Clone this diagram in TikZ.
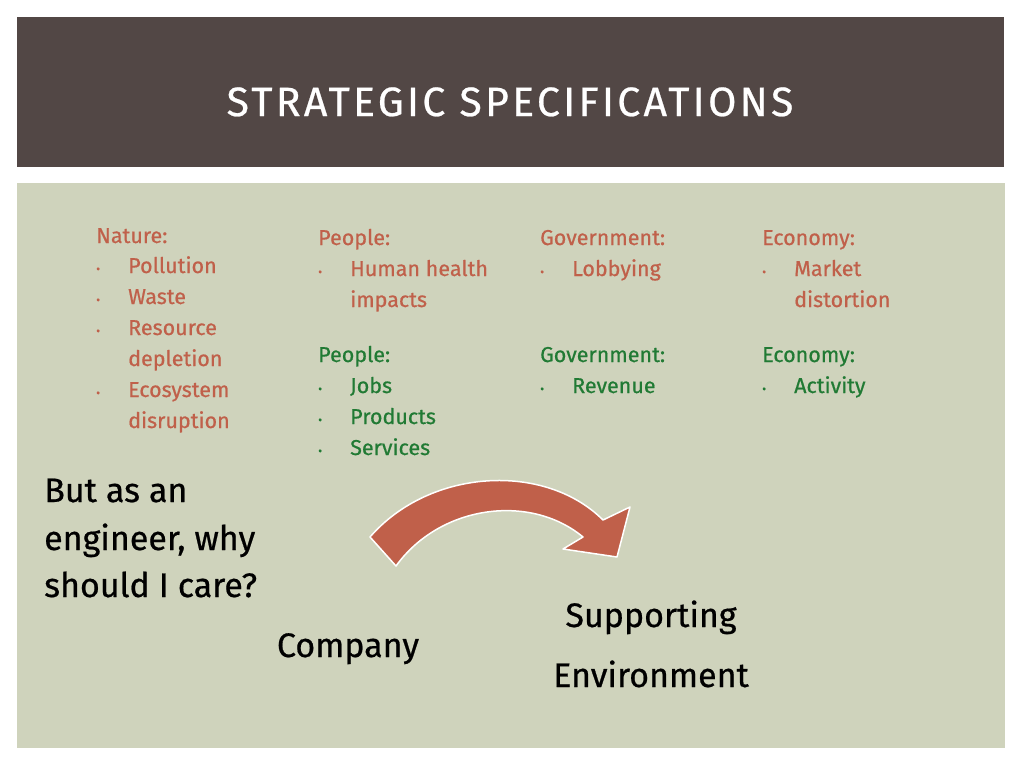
\documentclass[tikz,border=0pt]{standalone}
\usepackage{fontspec}
\setmainfont{Fira Sans}[FakeBold=0.6]
\definecolor{band}{HTML}{524745}
\definecolor{bg}{HTML}{CFD3BC}
\definecolor{rd}{HTML}{C0604A}
\definecolor{gr}{HTML}{217A34}
\tikzset{
 lbl/.style={anchor=base west,inner sep=0pt,font=\fontsize{21.5}{25}\selectfont},
 red/.style={lbl,text=rd},
 grn/.style={lbl,text=gr},
 big/.style={inner sep=0pt,font=\fontsize{34}{40}\selectfont,text=black}
}
\begin{document}
\begin{tikzpicture}[x=1pt,y=-1pt]
\useasboundingbox (0,0) rectangle (1024,768);
\fill[white] (0,0) rectangle (1024,768);
\fill[band] (17,17) rectangle (1004,167);
\fill[bg] (17,183) rectangle (1005,748);
\node[text=white,font=\fontsize{41}{44}\selectfont,anchor=base] (title) at (510,116) {\addfontfeature{LetterSpace=8}STRATEGIC SPECIFICATIONS};
% Nature
\node[red] (n0) at (96,243) {Nature:};
\foreach \y/\t [count=\i] in {273/Pollution,304/Waste,335/Resource,366/depletion,397/Ecosystem,428/disruption}{
  \node[red] (nt\i) at (128,\y) {\t};}
\foreach \y [count=\i] in {273,304,335,397}{\node[red] (nb\i) at (96,\y) {\large•};}
% People red
\node[red] (p0) at (318,245) {People:};
\node[red] (pb1) at (318,276) {\large•};
\node[red] (pt1) at (350,276) {Human health};
\node[red] (pt2) at (350,307) {impacts};
% Government red
\node[red] (g0) at (540,245) {Government:};
\node[red] (gb1) at (540,276) {\large•};
\node[red] (gt1) at (572,276) {Lobbying};
% Economy red
\node[red] (e0) at (762,245) {Economy:};
\node[red] (eb1) at (762,276) {\large•};
\node[red] (et1) at (794,276) {Market};
\node[red] (et2) at (794,307) {distortion};
% green
\node[grn] (q0) at (318,362) {People:};
\foreach \y/\t [count=\i] in {393/Jobs,424/Products,455/Services}{
  \node[grn] (qb\i) at (318,\y) {\large•};
  \node[grn] (qt\i) at (350,\y) {\t};}
\node[grn] (h0) at (540,362) {Government:};
\node[grn] (hb1) at (540,393) {\large•};
\node[grn] (ht1) at (572,393) {Revenue};
\node[grn] (f0) at (762,362) {Economy:};
\node[grn] (fb1) at (762,393) {\large•};
\node[grn] (ft1) at (794,393) {Activity};
% big text
\node[big,anchor=base west] (q1) at (44,502) {But as an};
\node[big,anchor=base west] (q2) at (44,550) {engineer, why};
\node[big,anchor=base west] (q3) at (44,597) {should I care?};
\node[big,anchor=base] (co) at (348,657) {Company};
\node[big,anchor=base] (su) at (651,627) {Supporting};
\node[big,anchor=base] (en) at (651,687) {Environment};
% arrow
\filldraw[fill=rd,draw=white,line width=1.5pt,line join=round]
 (370,537) .. controls (430,468) and (545,462) .. (603,520)
 -- (630,507) -- (617,557) -- (563,549) -- (583,537)
 .. controls (530,493) and (440,505) .. (396,566) -- cycle;
\end{tikzpicture}
\end{document}
